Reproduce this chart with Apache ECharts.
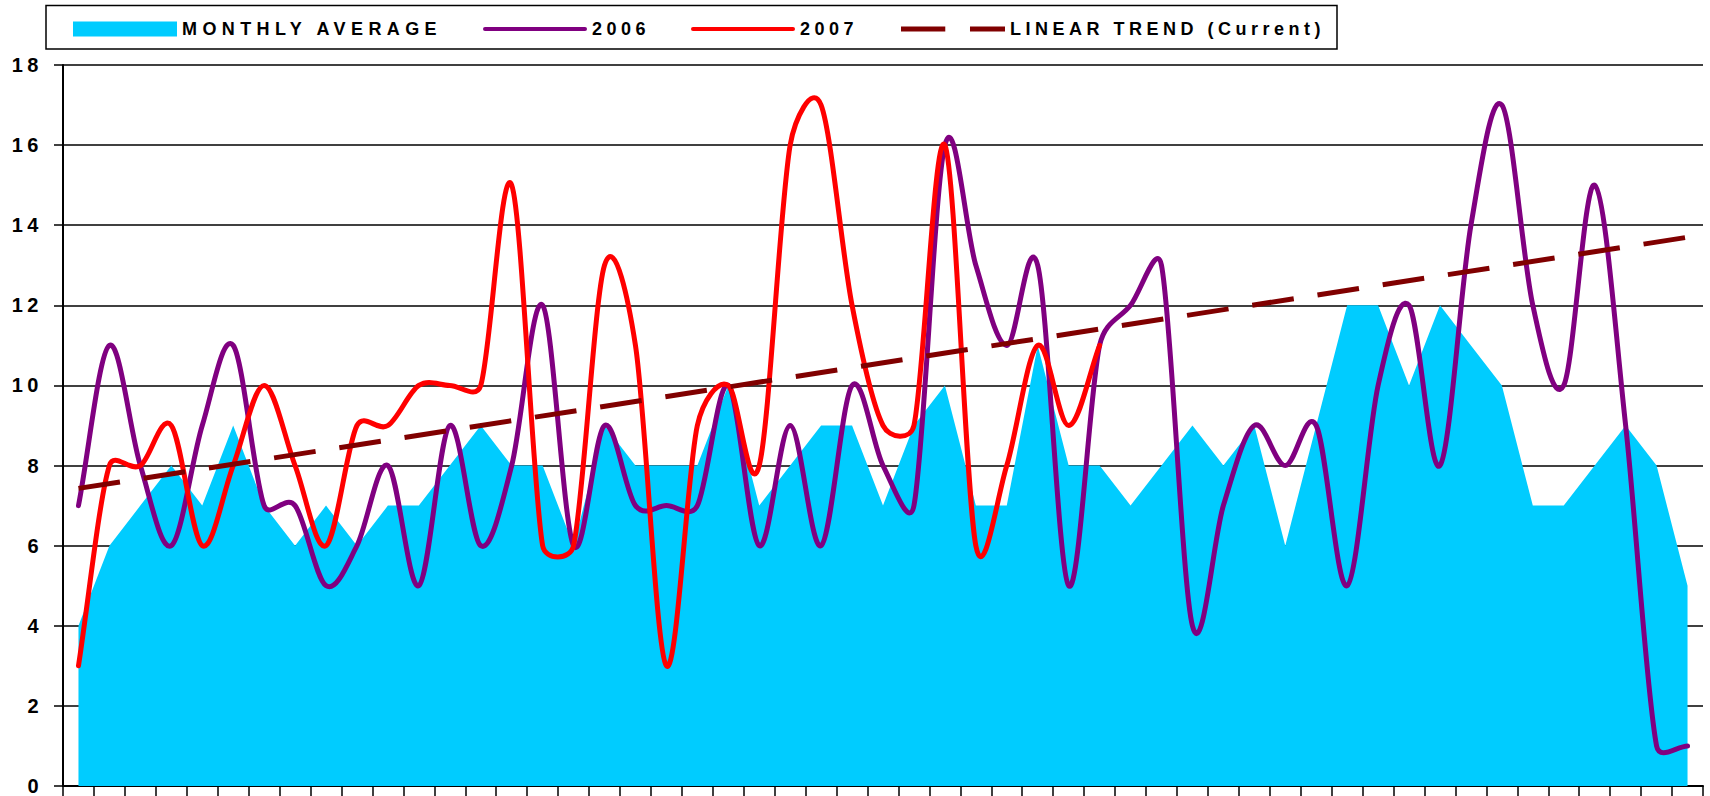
<!DOCTYPE html>
<html>
<head>
<meta charset="utf-8">
<script src="https://cdn.jsdelivr.net/npm/echarts@6/dist/echarts.min.js"></script>
<style>
  html, body { margin: 0; padding: 0; background: #fff; overflow: hidden; }
  #chart { width: 1710px; height: 796px; }
  /* the original chart has widely spaced lettering */
  #chart text { letter-spacing: 4.5px; }
</style>
</head>
<body>
<div id="chart"></div>
<script>
// categories (axis labels are cut off in the original picture)
var categories = ['1', '2', '3', '4', '5', '6', '7', '8', '9', '10',
  '11', '12', '13', '14', '15', '16', '17', '18', '19', '20',
  '21', '22', '23', '24', '25', '26', '27', '28', '29', '30',
  '31', '32', '33', '34', '35', '36', '37', '38', '39', '40',
  '41', '42', '43', '44', '45', '46', '47', '48', '49', '50',
  '51', '52', '53'];

var monthlyAverage = [4, 6, 7, 8, 7, 9, 7, 6, 7, 6,
  7, 7, 8, 9, 8, 8, 6, 9, 8, 8,
  8, 10, 7, 8, 9, 9, 7, 9, 10, 7,
  7, 11, 8, 8, 7, 8, 9, 8, 9, 6,
  9, 12, 12, 10, 12, 11, 10, 7, 7, 8,
  9, 8, 5];

var year2006 = [7, 11, 8, 6, 9, 11, 7, 7, 5, 6,
  8, 5, 9, 6, 8, 12, 6, 9, 7, 7,
  7, 10, 6, 9, 6, 10, 8, 7, 16, 13,
  11, 13, 5, 11, 12, 13, 4, 7, 9, 8,
  9, 5, 10, 12, 8, 14, 17, 12, 10, 15,
  9, 1, 1];

var year2007 = [3, 8, 8, 9, 6, 8, 10, 8, 6, 9,
  9, 10, 10, 10, 15, 6, 6, 13, 11, 3,
  9, 10, 8, 16, 17, 12, 9, 9, 16, 6,
  8, 11, 9, 11, null, null, null, null, null, null,
  null, null, null, null, null, null, null, null, null, null,
  null, null, null];

// linear trend: value at first and last category
var trendStart = 7.43;
var trendEnd = 13.7;

// y axis ticks
var yMin = 0, yMax = 18, yStep = 2;

var font = 'Arial, "Liberation Sans", sans-serif';

(function(){
  // 初始化实例对象
  var myChart = echarts.init(document.getElementById('chart'), null, { renderer: 'svg' });

  function legendAt(name, left, icon, color) {
    return {
      data: [{ name: name, icon: icon }],
      left: left,
      top: 20,
      padding: 0,
      itemWidth: 104,
      itemHeight: 15,
      selectedMode: false,
      itemStyle: { color: color, borderWidth: 0 },
      textStyle: { fontSize: 18, fontWeight: 'bold', color: '#000', fontFamily: font }
    };
  }

  // spreadsheet style smoothing: bezier with tangents of 1/6,
  // capped at half of the segment length
  function smoothPath(pts) {
    function dist(a, b) { return Math.sqrt((a[0] - b[0]) * (a[0] - b[0]) + (a[1] - b[1]) * (a[1] - b[1])); }
    var d = 'M' + pts[0][0] + ',' + pts[0][1];
    var n = pts.length;
    for (var i = 0; i < n - 1; i++) {
      var p0 = pts[i - 1] || pts[i];
      var p1 = pts[i];
      var p2 = pts[i + 1];
      var p3 = pts[i + 2] || pts[i + 1];
      var f1 = i === 0 ? 1 / 3 : 1 / 6;
      var f2 = i + 1 === n - 1 ? 1 / 3 : 1 / 6;
      var d12 = dist(p1, p2), d02 = dist(p0, p2), d13 = dist(p1, p3);
      if (d02 * f1 > d12 / 2) f1 = d12 / 2 / d02;
      if (d13 * f2 > d12 / 2) f2 = d12 / 2 / d13;
      var c1 = [p1[0] + f1 * (p2[0] - p0[0]), p1[1] + f1 * (p2[1] - p0[1])];
      var c2 = [p2[0] - f2 * (p3[0] - p1[0]), p2[1] - f2 * (p3[1] - p1[1])];
      d += 'C' + c1[0] + ',' + c1[1] + ' ' + c2[0] + ',' + c2[1] + ' ' + p2[0] + ',' + p2[1];
    }
    return d;
  }

  function smoothSeries(name, values, color, z) {
    return {
      name: name,
      type: 'custom',
      z: z,
      color: color,
      data: values.map(function(v, i) { return [i, v]; }),
      encode: { x: 0, y: 1 },
      renderItem: function(params, api) {
        if (params.dataIndex !== 0) return;
        var pts = [];
        values.forEach(function(v, i) {
          if (v !== null) pts.push(api.coord([i, v]));
        });
        return {
          type: 'path',
          shape: { pathData: smoothPath(pts) },
          style: { fill: 'none', stroke: color, lineWidth: 5, lineCap: 'round', lineJoin: 'round' }
        };
      }
    };
  }

  var option = {
    animation: false,
    textStyle: { fontFamily: font },
    grid: { left: 63, right: 7, top: 65, bottom: 8 },
    // legend frame
    graphic: [{
      type: 'rect',
      silent: true,
      z: 0,
      shape: { x: 46, y: 5.5, width: 1291, height: 43.5 },
      style: { fill: '#fff', stroke: '#000', lineWidth: 1.5 }
    }],
    legend: [
      legendAt('MONTHLY AVERAGE', 73, 'rect', '#00CCFF'),
      legendAt('2006', 483, 'path://M2,0H102A2,2,0,0,1,102,4H2A2,2,0,0,1,2,0Z', '#800080'),
      legendAt('2007', 691, 'path://M2,0H102A2,2,0,0,1,102,4H2A2,2,0,0,1,2,0Z', '#FF0000'),
      legendAt('LINEAR TREND (Current)', 901, 'path://M0,0H43V5H0Z M67,0H101V5H67Z', '#800000')
    ],
    xAxis: {
      type: 'category',
      data: categories,
      boundaryGap: true,
      axisLine: { lineStyle: { color: '#000', width: 2 } },
      axisTick: { show: true, interval: 0, length: 10, lineStyle: { color: '#000', width: 1.5 } },
      axisLabel: { show: false },
      splitLine: { show: false }
    },
    yAxis: {
      type: 'value',
      min: yMin,
      max: yMax,
      interval: yStep,
      axisLine: { show: true, lineStyle: { color: '#000', width: 2 } },
      axisTick: { show: true, length: 9, lineStyle: { color: '#000', width: 1.5 } },
      axisLabel: { fontSize: 20, fontWeight: 'bold', color: '#000', margin: 20, fontFamily: font },
      splitLine: { lineStyle: { color: '#000', width: 1.5 } }
    },
    series: [
      {
        name: 'MONTHLY AVERAGE',
        type: 'line',
        data: monthlyAverage,
        symbol: 'none',
        color: '#00CCFF',
        lineStyle: { width: 0 },
        areaStyle: { color: '#00CCFF', opacity: 1 },
        z: 1
      },
      smoothSeries('2006', year2006, '#800080', 2),
      smoothSeries('2007', year2007, '#FF0000', 3),
      {
        name: 'LINEAR TREND (Current)',
        type: 'line',
        data: [[0, trendStart], [categories.length - 1, trendEnd]],
        symbol: 'none',
        color: '#800000',
        lineStyle: { color: '#800000', width: 5, type: [42, 24] },
        z: 4
      }
    ]
  };

  // the first legend label is spread a little wider in the original
  function widenFirstLabel() {
    var texts = document.querySelectorAll('#chart text');
    for (var i = 0; i < texts.length; i++) {
      if (texts[i].textContent.trim() === 'MONTHLY AVERAGE') {
        texts[i].style.letterSpacing = '5.4px';
      }
    }
  }
  myChart.on('finished', widenFirstLabel);

  // 把配置项给实例对象
  myChart.setOption(option);
  widenFirstLabel();
  setTimeout(widenFirstLabel, 0);
  setTimeout(widenFirstLabel, 100);

  window.addEventListener('resize', function() {
    myChart.resize();
  });
})();
</script>
</body>
</html>
